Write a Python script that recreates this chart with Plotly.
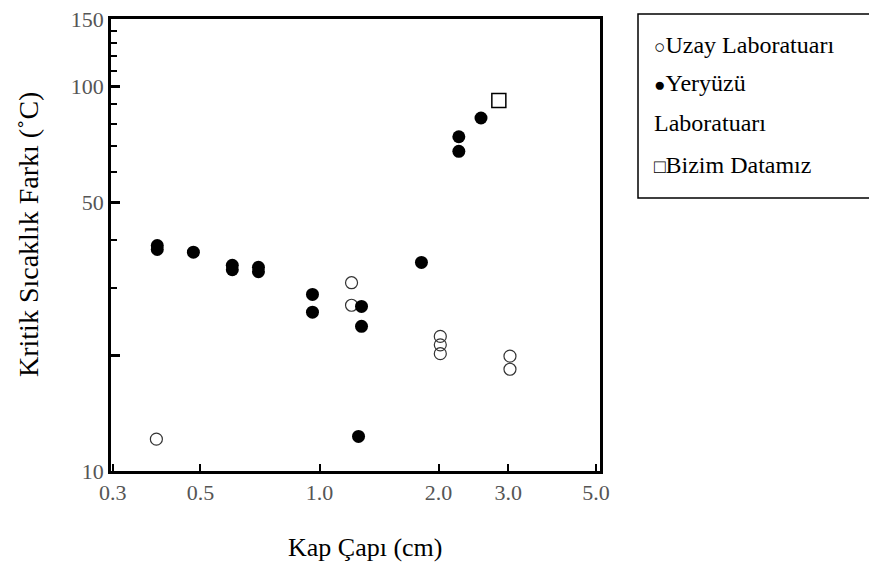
import plotly.graph_objects as go

# Yeryüzü Laboratuarı (filled circles)
earth_x = [0.389, 0.389, 0.480, 0.602, 0.602, 0.701, 0.701, 0.960, 0.960,
           1.277, 1.277, 1.255, 1.81, 2.25, 2.25, 2.56]
earth_y = [38.6, 37.7, 37.1, 34.3, 33.4, 33.9, 33.0, 28.8, 25.9,
           26.8, 23.8, 12.3, 34.9, 74.1, 67.9, 82.9]

# Uzay Laboratuarı (open circles)
space_x = [0.387, 1.205, 1.205, 2.02, 2.02, 2.02, 3.03, 3.03]
space_y = [12.1, 30.9, 27.0, 22.4, 21.3, 20.2, 19.9, 18.4]

# Bizim Datamız (open square)
our_x = [2.84]
our_y = [92.1]

x_tickvals = [0.3, 0.5, 1.0, 2.0, 3.0, 5.0]
x_ticktext = ["0.3", "0.5", "1.0", "2.0", "3.0", "5.0"]
y_tickvals = [10, 20, 50, 100, 150]
y_ticktext = ["10", "", "50", "100", "150"]
y_minor = [30, 40, 60, 70, 80, 90, 110, 120, 130, 140]

SERIF = "Liberation Serif, Times New Roman, serif"

# page offset of the plot area (body margin of 8px is added by the browser)
W, H = 869, 568
PL, PR, PT, PB = 111, 600, 19, 471   # plot area in page pixels


def px(xp):
    return (xp - PL) / (PR - PL)


def py(yp):
    return (PB - yp) / (PB - PT)


fig = go.Figure()
fig.add_trace(go.Scatter(x=space_x, y=space_y, mode="markers", name="Uzay Laboratuarı",
                         marker=dict(symbol="circle-open", size=12, color="#333333",
                                     line=dict(width=1.2, color="#333333"))))
fig.add_trace(go.Scatter(x=earth_x, y=earth_y, mode="markers", name="Yeryüzü Laboratuarı",
                         marker=dict(symbol="circle", size=13, color="black")))
fig.add_trace(go.Scatter(x=our_x, y=our_y, mode="markers", name="Bizim Datamız",
                         marker=dict(symbol="square-open", size=14, color="black",
                                     line=dict(width=1.5, color="black"))))

fig.update_layout(
    width=W, height=H,
    margin=dict(l=PL - 8, r=W - (PR - 8), t=PT - 8, b=H - (PB - 8), autoexpand=False),
    plot_bgcolor="white", paper_bgcolor="white",
    showlegend=False,
    font=dict(family=SERIF, color="black"),
)

fig.update_xaxes(
    type="log", range=[-0.527, 0.709], automargin=False,
    tickvals=x_tickvals, ticktext=x_ticktext, ticklabeloverflow="allow",
    ticks="inside", ticklen=7, tickwidth=1.5, tickcolor="black",
    showline=True, linewidth=2.5, linecolor="black", mirror=True,
    showgrid=False, zeroline=False,
    tickfont=dict(family=SERIF, size=22, color="#555555"),
)
fig.update_yaxes(
    type="log", range=[1.0, 2.1762], automargin=False,
    tickvals=y_tickvals, ticktext=y_ticktext, ticklabeloverflow="allow",
    ticks="inside", ticklen=9, tickwidth=2.5, tickcolor="black",
    minor=dict(tickvals=y_minor, ticks="inside", ticklen=6, tickwidth=2, tickcolor="black"),
    showline=True, linewidth=2.5, linecolor="black", mirror=True,
    showgrid=False, zeroline=False,
    tickfont=dict(family=SERIF, size=22, color="#555555"),
)

# axis titles
fig.add_annotation(text="Kap Çapı (cm)", xref="paper", yref="paper",
                   x=px(365), y=py(547), showarrow=False,
                   font=dict(family=SERIF, size=26, color="black"),
                   xanchor="center", yanchor="middle")
fig.add_annotation(text="Kritik Sıcaklık Farkı (˚C)", xref="paper", yref="paper",
                   x=px(29), y=py(235), showarrow=False, textangle=-90,
                   font=dict(family=SERIF, size=28, color="black"),
                   xanchor="center", yanchor="middle")

# legend box
fig.add_shape(type="rect", xref="paper", yref="paper",
              x0=px(638), x1=px(885), y0=py(198), y1=py(14),
              line=dict(color="black", width=1.5), fillcolor="white")

G = "<span style='font-size:19px'>{}</span>"
legend_lines = [
    (G.format("○") + "Uzay Laboratuarı", 45),
    (G.format("●") + "Yeryüzü", 83),
    ("Laboratuarı", 123),
    (G.format("□") + "Bizim Datamız", 165),
]
for txt, yy in legend_lines:
    fig.add_annotation(text=txt, xref="paper", yref="paper",
                       x=px(652), y=py(yy), showarrow=False,
                       xanchor="left", yanchor="middle",
                       font=dict(family=SERIF, size=24, color="black"))

fig.write_html("out.html")
